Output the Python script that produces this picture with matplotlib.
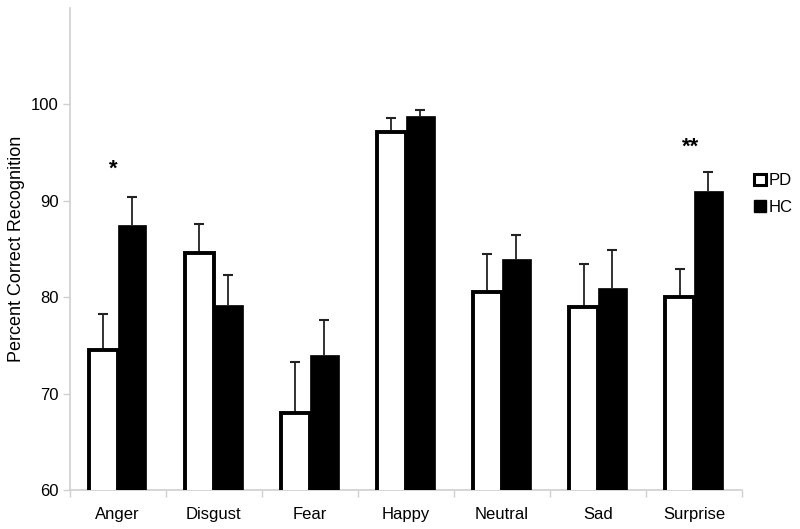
import matplotlib
matplotlib.use("Agg")
import matplotlib.pyplot as plt
from matplotlib.patches import Patch
import numpy as np

categories = ["Anger", "Disgust", "Fear", "Happy", "Neutral", "Sad", "Surprise"]
pd_values = [74.5, 84.6, 68.0, 97.1, 80.5, 79.0, 80.0]
pd_err = [3.8, 3.0, 5.3, 1.5, 4.0, 4.4, 2.9]
hc_values = [87.5, 79.2, 74.0, 98.8, 84.0, 81.0, 91.0]
hc_err = [2.9, 3.1, 3.6, 0.6, 2.5, 3.9, 2.0]
significance = ["*", "", "", "", "", "", "**"]
sig_y = [93.8, 0, 0, 0, 0, 0, 96.1]
yticks = [60, 70, 80, 90, 100]

plt.rcParams['font.family'] = ['Liberation Sans', 'DejaVu Sans']

fig = plt.figure(figsize=(8, 5.29), dpi=100)
ax = fig.add_axes([0.087, 0.0737, 0.8405, 0.9113])

x = np.arange(len(categories))
w = 0.3
grey = "#d0d0d0"
ecol = "#222222"

ax.bar(x - w / 2, pd_values, w, color="white", edgecolor="black",
       linewidth=2.8, zorder=3)
ax.bar(x + w / 2, hc_values, w, color="black", edgecolor="black",
       linewidth=0.5, zorder=3)

for xs, vals, errs in [(x - w / 2, pd_values, pd_err), (x + w / 2, hc_values, hc_err)]:
    tops = np.array(vals) + np.array(errs)
    ax.vlines(xs, vals, tops, color=ecol, linewidth=1.3, zorder=2)
    ax.plot(xs, tops, linestyle="none", marker="_", markersize=7,
            markeredgewidth=1.5, color=ecol, zorder=2)

for i, s in enumerate(significance):
    if s:
        ax.annotate(s, (x[i] - 0.04, sig_y[i]), xytext=(0, -4),
                    textcoords="offset points", ha="center", va="center",
                    fontsize=16, fontweight="bold")

ax.set_ylim(60, 110)
ax.set_xlim(-0.5, len(categories) - 0.5)
ax.set_yticks(yticks)
ax.set_yticklabels([str(t) for t in yticks], fontsize=12)
ax.set_xticks(x)
ax.set_xticklabels(categories, fontsize=12)
ax.set_xticks(np.arange(len(categories) + 1) - 0.5, minor=True)
ax.tick_params(axis="x", which="major", length=0, pad=12)
ax.tick_params(axis="x", which="minor", length=5, color=grey, width=1)
ax.tick_params(axis="y", length=5, color=grey, width=1, pad=3)

for side in ["top", "right"]:
    ax.spines[side].set_visible(False)
for side in ["left", "bottom"]:
    ax.spines[side].set_color(grey)
    ax.spines[side].set_linewidth(1.2)

ax.set_ylabel("Percent Correct Recognition", fontsize=13, labelpad=4)

handles = [Patch(facecolor="white", edgecolor="black", linewidth=2.2, label="PD"),
           Patch(facecolor="black", edgecolor="black", label="HC")]
fig.legend(handles=handles, loc="center left", bbox_to_anchor=(0.932, 0.633),
           frameon=False, fontsize=12, handlelength=0.7, handleheight=0.7,
           handletextpad=0.2, labelspacing=0.7, borderpad=0)

fig.savefig("out.png", dpi=100)
